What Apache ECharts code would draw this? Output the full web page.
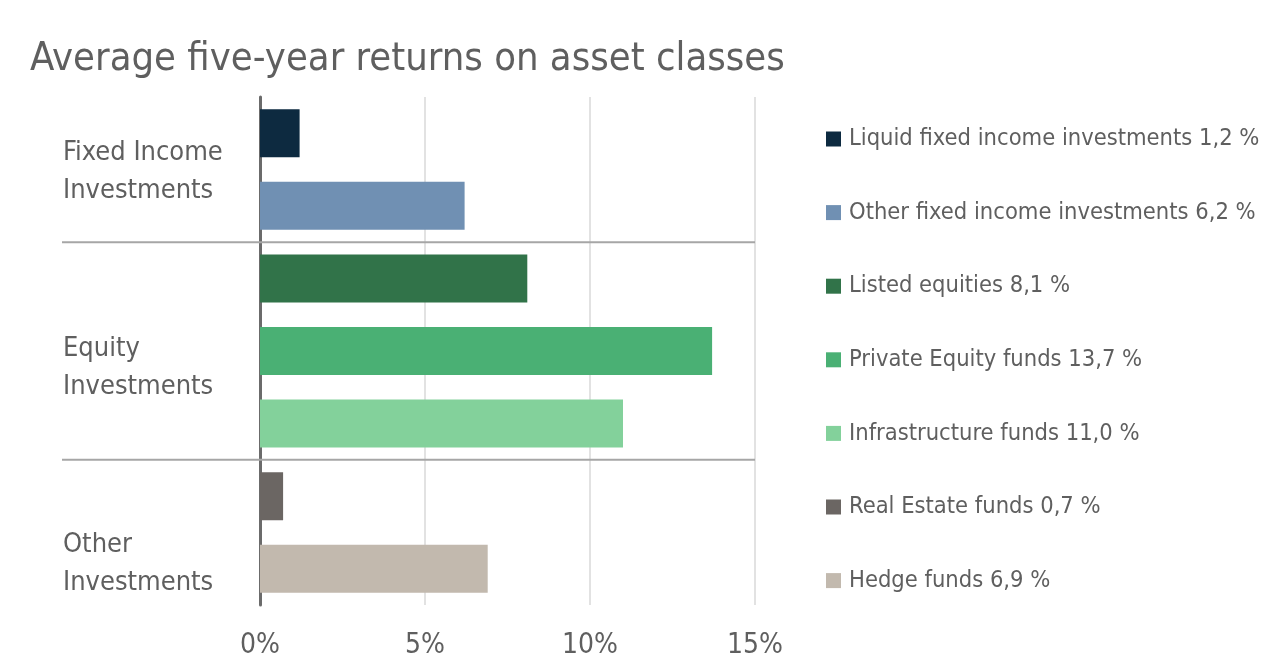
<!DOCTYPE html>
<html>
<head>
<meta charset="utf-8">
<script src="https://cdn.jsdelivr.net/npm/echarts@6/dist/echarts.min.js"></script>
<style>
  html, body { margin: 0; padding: 0; background: #fff; }
  #chart { width: 1288px; height: 672px; }
</style>
</head>
<body>
<div id="chart"></div>
<script>
// 数据
let assetNames = [
    'Liquid fixed income investments',
    'Other fixed income investments',
    'Listed equities',
    'Private Equity funds',
    'Infrastructure funds',
    'Real Estate funds',
    'Hedge funds'
];
let returnValues = [1.2, 6.2, 8.1, 13.7, 11.0, 0.7, 6.9];
let barColors = ['#0d2a40', '#7090b3', '#317349', '#4ab074', '#83d19b', '#6b6663', '#c2b9ae'];
let groupNames = ['Fixed Income\nInvestments', 'Equity\nInvestments', 'Other\nInvestments'];
// 分组标签所在位置（类目序号）以及分隔线位置
let groupLabelAt = [0.53, 3.23, 5.93];
let groupBreakAt = [1.5, 4.5];
let xTicks = [0, 5, 10, 15];

let FONT = "'Liberation Sans Narrow', 'DejaVu Sans Condensed', sans-serif";
let TEXT = '#5f5f5f';

let myChart = echarts.init(document.getElementById('chart'));

function fmt(v) {
    return v.toFixed(1).replace('.', ',') + ' %';
}

let series = assetNames.map((name, i) => ({
    name: name,
    type: 'bar',
    stack: 'all',
    barWidth: 48,
    itemStyle: {color: barColors[i]},
    data: returnValues.map((v, j) => (j === i ? v : '-'))
}));

let option = {
    animation: false,
    textStyle: {fontFamily: FONT},
    title: {
        text: 'Average five-year returns on asset classes',
        left: 25,
        top: 35,
        textStyle: {fontFamily: FONT, fontSize: 39.6, fontWeight: 'normal', color: TEXT}
    },
    legend: {
        orient: 'vertical',
        left: 821,
        top: 119,
        itemWidth: 15,
        itemHeight: 15,
        itemGap: 43.6,
        icon: 'rect',
        data: assetNames,
        formatter: name => name + ' ' + fmt(returnValues[assetNames.indexOf(name)]),
        textStyle: {fontFamily: FONT, fontSize: 23.5, color: TEXT, lineHeight: 30, padding: [0, 0, 0, 3]}
    },
    grid: {left: 260, right: 533, top: 97, height: 508, containLabel: false},
    xAxis: {
        type: 'value',
        min: xTicks[0],
        max: xTicks[xTicks.length - 1],
        interval: 5,
        axisLine: {show: false},
        axisTick: {show: false},
        axisLabel: {
            margin: 27,
            fontFamily: FONT,
            fontSize: 28,
            color: TEXT,
            formatter: v => v + '%'
        },
        splitLine: {lineStyle: {color: '#d9d9d9', width: 1.5}}
    },
    yAxis: {
        type: 'category',
        inverse: true,
        data: assetNames,
        axisLine: {lineStyle: {color: '#6b6b6b', width: 3}},
        axisTick: {show: false},
        axisLabel: {show: false},
        splitLine: {show: false}
    },
    series: series
};

myChart.setOption(option);

// 分组标签和分隔线，位置由坐标轴换算
let y0 = myChart.convertToPixel({yAxisIndex: 0}, assetNames[0]);
let y1 = myChart.convertToPixel({yAxisIndex: 0}, assetNames[1]);
let step = y1 - y0;
let xRight = myChart.convertToPixel({xAxisIndex: 0}, xTicks[xTicks.length - 1]);
let graphics = [];
groupBreakAt.forEach(p => {
    let y = y0 + p * step;
    graphics.push({
        type: 'line',
        shape: {x1: 62, y1: y, x2: xRight, y2: y},
        style: {stroke: '#a6a6a6', lineWidth: 2},
        z: 1
    });
});
groupNames.forEach((g, i) => {
    graphics.push({
        type: 'text',
        x: 63,
        y: y0 + groupLabelAt[i] * step,
        style: {
            text: g,
            fontFamily: FONT,
            fontSize: 27,
            lineHeight: 38,
            fill: TEXT,
            verticalAlign: 'middle',
            align: 'left'
        }
    });
});
myChart.setOption({graphic: graphics});
</script>
</body>
</html>
